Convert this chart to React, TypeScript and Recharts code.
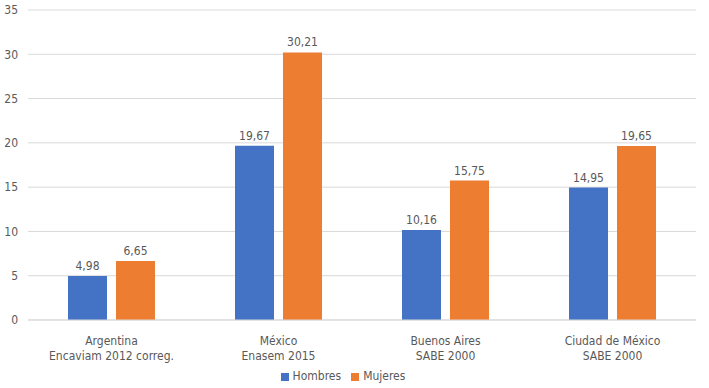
import React from "react";
import { BarChart, Bar, XAxis, YAxis, CartesianGrid, Legend, LabelList } from "recharts";

const categoriesLine1 = ["Argentina", "México", "Buenos Aires", "Ciudad de México"];
const categoriesLine2 = ["Encaviam 2012 correg.", "Enasem 2015", "SABE 2000", "SABE 2000"];
const hombres = [4.98, 19.67, 10.16, 14.95];
const mujeres = [6.65, 30.21, 15.75, 19.65];
const yTicks = [0, 5, 10, 15, 20, 25, 30, 35];

const data = categoriesLine1.map((c, i) => ({
  name: c,
  sub: categoriesLine2[i],
  Hombres: hombres[i],
  Mujeres: mujeres[i],
}));

const FONT = "'Liberation Sans Narrow', 'DejaVu Sans Condensed', 'Roboto Condensed', sans-serif";
const TEXT = "#595959";

const fmt = (v: any) => Number(v).toFixed(2).replace(".", ",");

const CatTick = (props: any) => {
  const { x, y, payload, index } = props;
  const i = index ?? categoriesLine1.indexOf(payload.value);
  return (
    <g transform={`translate(${x},${y})`}>
      <text textAnchor="middle" fill={TEXT} fontSize={12} fontFamily={FONT}>
        <tspan x={0} y={17}>{categoriesLine1[i]}</tspan>
        <tspan x={0} y={32}>{categoriesLine2[i]}</tspan>
      </text>
    </g>
  );
};

export default function App() {
  return (
    <div style={{ position: "absolute", left: 0, top: 0, width: 709, height: 388, background: "#fff" }}>
      <BarChart
        width={709}
        height={388}
        data={data}
        margin={{ top: 10, right: 13, left: 0, bottom: 2 }}
        barGap={9}
        barSize={39}
      >
        <CartesianGrid vertical={false} stroke="#d9d9d9" />
        <XAxis
          dataKey="name"
          tick={<CatTick />}
          tickLine={false}
          axisLine={{ stroke: "#d9d9d9" }}
          height={44}
          interval={0}
        />
        <YAxis
          domain={[0, 35]}
          ticks={yTicks}
          width={28}
          axisLine={false}
          tickLine={false}
          tickMargin={4}
          tick={{ fill: TEXT, fontSize: 12, fontFamily: FONT }}
        />
        <Legend
          verticalAlign="bottom"
          height={22}
          iconType="square"
          iconSize={8}
          wrapperStyle={{ fontFamily: FONT, fontSize: 12, color: TEXT, top: 369, bottom: "auto" }}
          formatter={(v: any) => <span style={{ color: TEXT }}>{v}</span>}
        />
        <Bar dataKey="Hombres" fill="#4472C4" isAnimationActive={false}>
          <LabelList dataKey="Hombres" position="top" offset={6} formatter={fmt} fill={TEXT} fontSize={12} fontFamily={FONT} />
        </Bar>
        <Bar dataKey="Mujeres" fill="#ED7D31" isAnimationActive={false}>
          <LabelList dataKey="Mujeres" position="top" offset={6} formatter={fmt} fill={TEXT} fontSize={12} fontFamily={FONT} />
        </Bar>
      </BarChart>
    </div>
  );
}
